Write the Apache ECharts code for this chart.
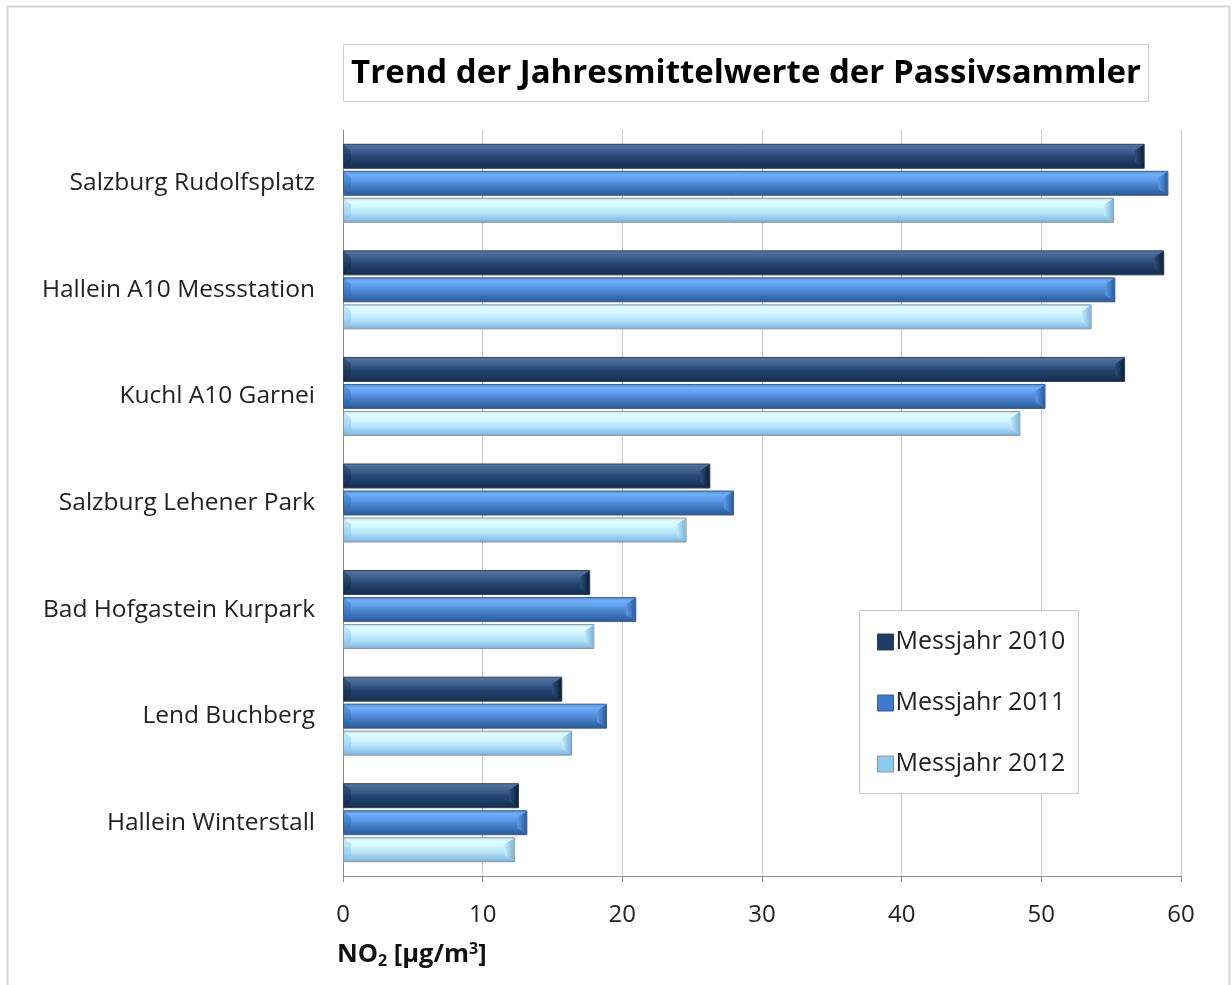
<!DOCTYPE html>
<html>
<head>
<meta charset="utf-8">
<script src="https://cdn.jsdelivr.net/npm/echarts@6/dist/echarts.min.js"></script>
<style>
  html, body { margin: 0; padding: 0; background: #fff; }
  #chart { width: 1232px; height: 985px; }
</style>
</head>
<body>
<div id="chart"></div>
<script>
// Measuring sites, top to bottom
const stations = [
  'Salzburg Rudolfsplatz',
  'Hallein A10 Messstation',
  'Kuchl A10 Garnei',
  'Salzburg Lehener Park',
  'Bad Hofgastein Kurpark',
  'Lend Buchberg',
  'Hallein Winterstall'
];
// Annual mean NO2 (µg/m³) per year
const year2010 = [57.4, 58.8, 56.0, 26.3, 17.7, 15.7, 12.6];
const year2011 = [59.1, 55.3, 50.3, 28.0, 21.0, 18.9, 13.2];
const year2012 = [55.2, 53.6, 48.5, 24.6, 18.0, 16.4, 12.3];
const seriesNames = ['Messjahr 2010', 'Messjahr 2011', 'Messjahr 2012'];
const xTicks = [0, 10, 20, 30, 40, 50, 60];

const FONT = '"Open Sans", sans-serif';
const BAR_W = 25;
const BAR_GAP = 2;

function vgrad(stops) {
  return new echarts.graphic.LinearGradient(0, 0, 0, 1,
    stops.map(([o, c]) => ({ offset: o, color: c })));
}
function hgrad(stops) {
  return new echarts.graphic.LinearGradient(0, 0, 1, 0,
    stops.map(([o, c]) => ({ offset: o, color: c })));
}

// bevelled bar faces
const fills = [
  vgrad([[0, '#5a7aa6'], [0.12, '#4a6c9c'], [0.3, '#3e5f8e'], [0.55, '#244572'], [0.85, '#1a3459'], [1, '#142a4a']]),
  vgrad([[0, '#4f86d0'], [0.15, '#6fb0f8'], [0.32, '#62a2ee'], [0.55, '#4b86d2'], [0.85, '#3566a8'], [1, '#2c5690']]),
  vgrad([[0, '#b6e2f8'], [0.15, '#e2fdff'], [0.35, '#d2f6ff'], [0.6, '#b6e4fa'], [0.88, '#8fc2e6'], [1, '#7da9cc']])
];
// right-end caps
const capFills = [
  hgrad([[0, '#2f4f7c'], [1, '#0e1f38']]),
  hgrad([[0, '#5c9ae6'], [1, '#2d5c9c']]),
  hgrad([[0, '#c4ecfb'], [1, '#7fb2da']])
];
// left-end caps
const leftCaps = ['#0f2340', '#2e63ad', '#7fb8e4'];
const borders = ['#2c3e56', '#3d5f8c', '#8a96a3'];
const legendFill = ['#1f3b63', '#3f7acb', '#8fcbea'];
const values = [year2010, year2011, year2012];

const chart = echarts.init(document.getElementById('chart'), null, { renderer: 'canvas' });

function capRenderer(i) {
  return function (params, api) {
    const end = api.coord([api.value(0), api.value(1)]);
    const start = api.coord([0, api.value(1)]);
    const cy = end[1] + (i - 1) * (BAR_W + BAR_GAP);
    const top = cy - BAR_W / 2 + 1;
    const bot = cy + BAR_W / 2 - 1;
    const d = 9;
    const xr = end[0] - 1;
    const xl = start[0] + 1;
    return {
      type: 'group',
      children: [
        { type: 'polygon', shape: { points: [[xr - d, top + 6], [xr, top], [xr, bot], [xr - d, bot - 6]] },
          style: { fill: capFills[i] } },
        { type: 'polygon', shape: { points: [[xl, top], [xl + 7, top + 6], [xl + 7, bot - 6], [xl, bot]] },
          style: { fill: leftCaps[i], opacity: 0.35 } }
      ]
    };
  };
}

const barSeries = seriesNames.map((name, i) => ({
  name,
  type: 'bar',
  data: values[i],
  barWidth: BAR_W,
  barGap: '8%',
  barCategoryGap: '26%',
  itemStyle: { color: fills[i], borderColor: borders[i], borderWidth: 1 }
}));
const capSeries = seriesNames.map((name, i) => ({
  name: name + ' caps',
  type: 'custom',
  silent: true,
  z: 3,
  data: values[i].map((v, k) => [v, k]),
  encode: { x: 0, y: 1 },
  renderItem: capRenderer(i)
}));

chart.setOption({
  backgroundColor: '#fff',
  animation: false,
  grid: { left: 343, right: 51, top: 130, bottom: 109, containLabel: false },
  xAxis: {
    type: 'value',
    min: 0, max: 60, interval: 10,
    axisLine: { show: true, lineStyle: { color: '#8c8c8c', width: 1 } },
    axisTick: { show: true, length: 6, lineStyle: { color: '#8c8c8c' } },
    splitLine: { show: true, lineStyle: { color: '#c8c8c8', width: 1 } },
    axisLabel: {
      margin: 27, fontFamily: FONT, fontSize: 24, color: '#222',
      formatter: v => xTicks.includes(v) ? String(v) : ''
    }
  },
  yAxis: {
    type: 'category',
    data: stations,
    inverse: true,
    axisLine: { show: true, lineStyle: { color: '#8c8c8c' } },
    axisTick: { show: false },
    splitLine: { show: false },
    axisLabel: { margin: 28, fontFamily: FONT, fontSize: 24.5, color: '#222' }
  },
  legend: {
    orient: 'vertical',
    left: 872, top: 624,
    itemWidth: 16, itemHeight: 16,
    itemGap: 35,
    icon: 'rect',
    z: 20,
    textStyle: { fontFamily: FONT, fontSize: 25, lineHeight: 26, color: '#222', padding: [0, 0, 0, -3] },
    data: seriesNames.map((n, i) => ({ name: n, itemStyle: { color: legendFill[i], borderColor: borders[i], borderWidth: 1 } }))
  },
  graphic: [
    { type: 'rect', z: -10, shape: { x: 7.5, y: 6.5, width: 1222, height: 990 },
      style: { fill: 'none', stroke: '#d4d4d4', lineWidth: 2 } },
    { type: 'rect', z: 5, shape: { x: 343.5, y: 44.5, width: 805, height: 57 },
      style: { fill: '#fff', stroke: '#cfcfcf', lineWidth: 1 } },
    { type: 'text', z: 6, x: 746, y: 74,
      style: { text: 'Trend der Jahresmittelwerte der Passivsammler', fontFamily: FONT, fontWeight: 'bold',
        fontSize: 33, fill: '#000', align: 'center', verticalAlign: 'middle' } },
    { type: 'rect', z: 10, shape: { x: 859.5, y: 610.5, width: 219, height: 183 },
      style: { fill: '#fff', stroke: '#c8c8c8', lineWidth: 1 } },
    { type: 'text', z: 6, x: 337, y: 955,
      style: {
        text: '{b|NO}{s|2}{b| [µg/m}{p|3}{b|]}',
        verticalAlign: 'middle',
        rich: {
          b: { fontFamily: FONT, fontWeight: 'bold', fontSize: 25.5, fill: '#111' },
          s: { fontFamily: FONT, fontWeight: 'bold', fontSize: 16, fill: '#111', padding: [12, 0, 0, 0] },
          p: { fontFamily: FONT, fontWeight: 'bold', fontSize: 16, fill: '#111', padding: [0, 0, 12, 0] }
        }
      } }
  ],
  series: barSeries.concat(capSeries)
});
</script>
</body>
</html>
